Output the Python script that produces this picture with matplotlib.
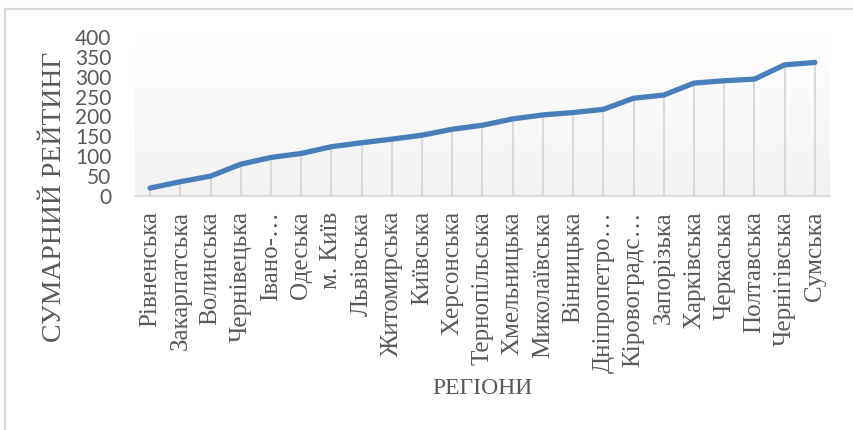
import matplotlib
matplotlib.use("Agg")
import matplotlib.pyplot as plt
import numpy as np
from matplotlib.lines import Line2D

regions = ["Рівненська", "Закарпатська", "Волинська", "Чернівецька", "Івано-…",
           "Одеська", "м. Київ", "Львівська", "Житомирська", "Київська",
           "Херсонська", "Тернопільська", "Хмельницька", "Миколаївська",
           "Вінницька", "Дніпропетро…", "Кіровоградс…", "Запорізька",
           "Харківська", "Черкаська", "Полтавська", "Чернігівська", "Сумська"]
rating = [20, 36, 50, 80, 97, 107, 124, 134, 143, 153, 168, 178, 194, 204,
          210, 218, 246, 254, 284, 290, 294, 330, 336]
yticks = [0, 50, 100, 150, 200, 250, 300, 350, 400]

W, H = 854, 430
fig = plt.figure(figsize=(W/100, H/100), dpi=100)
ax = fig.add_axes([135/W, 1-196/H, 695/W, 159/H])

x = np.arange(len(regions))
ax.set_xlim(-0.5, len(regions)-0.5)
ax.set_ylim(0, 400)

# gradient background
grad = np.linspace(0, 1, 256).reshape(-1, 1)
cmap = matplotlib.colors.LinearSegmentedColormap.from_list("g", ["#f2f2f2", "#ffffff"])
ax.imshow(grad, extent=[0, 1, 0, 1], transform=ax.transAxes, origin="lower",
          cmap=cmap, aspect="auto", zorder=0)

# drop lines
ax.vlines(x, 0, rating, colors="#d9d9d9", lw=1.5, zorder=1)
ax.plot(x, rating, color="#4a7ebb", lw=3.8, solid_capstyle="round",
        solid_joinstyle="round", zorder=3)

for s in ["top", "right", "left"]:
    ax.spines[s].set_visible(False)
ax.spines["bottom"].set_color("#d9d9d9")
ax.spines["bottom"].set_linewidth(1.2)

ax.set_yticks(yticks)
ax.set_yticklabels([str(v) for v in yticks], fontfamily="Lato", fontsize=15,
                   color="#595959")
ax.tick_params(axis="y", length=0, pad=17)
ax.set_xticks(x)
ax.set_xticklabels(regions, rotation=90, fontfamily="Liberation Serif",
                   fontsize=18, color="#595959", va="top", ha="center")
ax.tick_params(axis="x", length=0, pad=11)

fig.text(55/W, 1-197/H, "СУМАРНИЙ РЕЙТИНГ", rotation=90, ha="center", va="center",
         fontfamily="Liberation Serif", fontsize=20, color="#595959")
fig.text(482/W, 1-388/H, "РЕГІОНИ", ha="center", va="center",
         fontfamily="Liberation Serif", fontsize=17, color="#595959")

# outer border (partially visible)
fig.add_artist(Line2D([5/W, 1], [1-8.5/H, 1-8.5/H], color="#d9d9d9", lw=1.5,
                      transform=fig.transFigure))
fig.add_artist(Line2D([5/W, 5/W], [0, 1-8.5/H], color="#d9d9d9", lw=1.5,
                      transform=fig.transFigure))

fig.savefig("out.png", dpi=100)
